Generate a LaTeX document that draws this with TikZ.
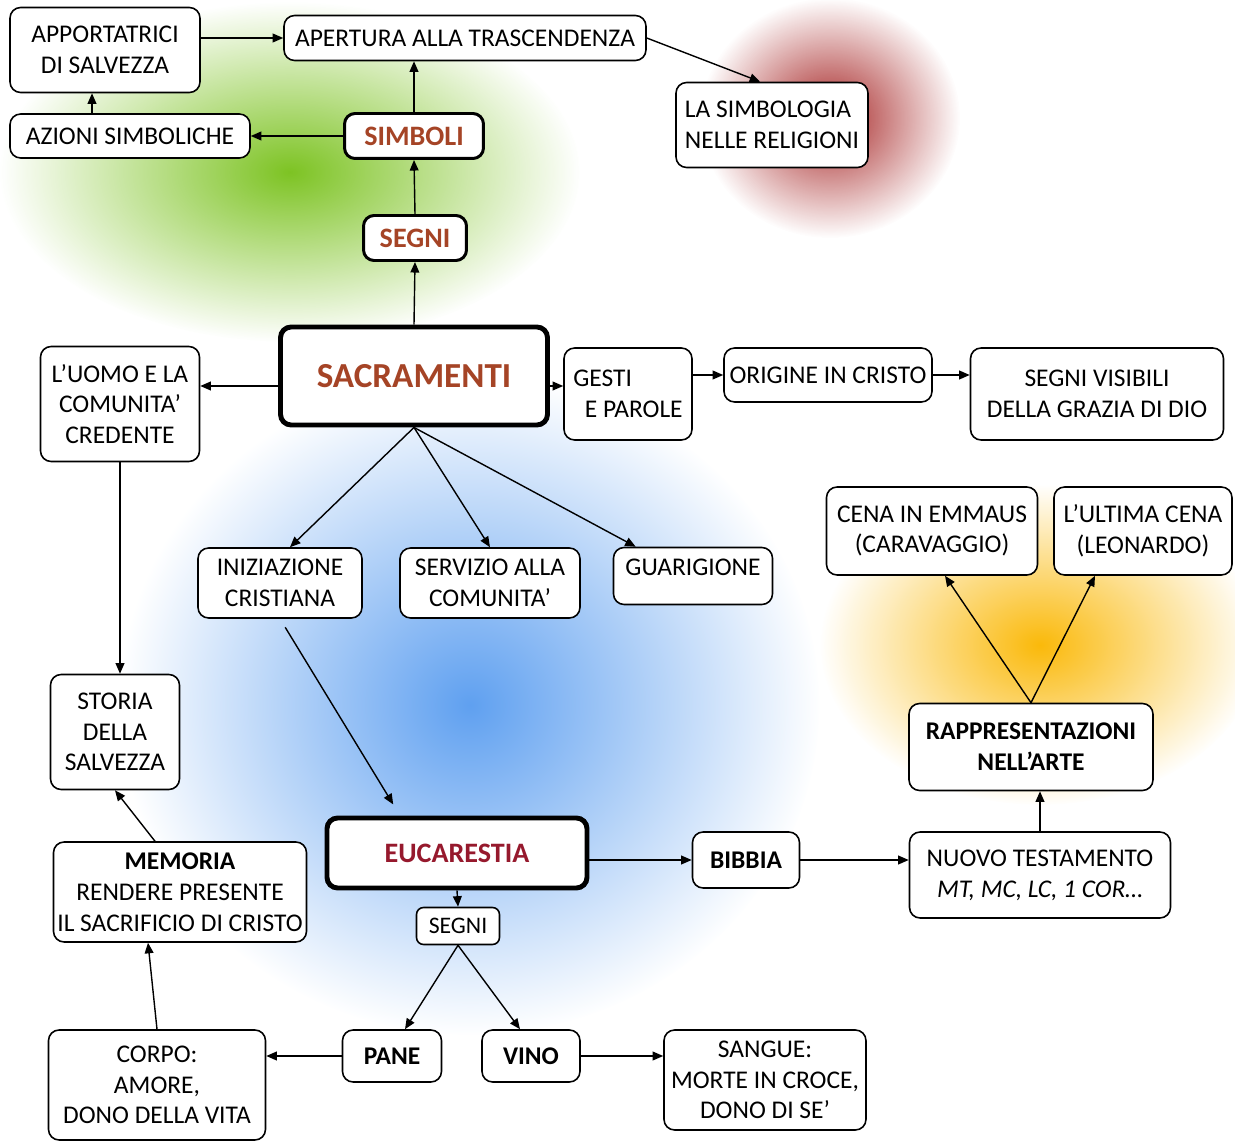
\documentclass[tikz,border=0pt]{standalone}
\usepackage{fontspec}
\setmainfont{Carlito}
\usetikzlibrary{arrows.meta,fadings}
\definecolor{sacrcol}{RGB}{165,68,38}
\definecolor{eucol}{RGB}{150,25,45}
\definecolor{glowgreen}{RGB}{125,195,35}
\definecolor{glowred}{RGB}{165,35,35}
\definecolor{glowblue}{RGB}{95,160,240}
\definecolor{gloworange}{RGB}{250,185,10}
\tikzfading[name=glowfade, inner color=transparent!0, outer color=transparent!100]
\tikzset{
  box/.style={draw, rounded corners=6pt, fill=white, align=center, line width=0.9pt,
    inner sep=2pt, font=\fontsize{14.5}{17.5}\selectfont},
  keybox/.style={box, line width=1.7pt, text=sacrcol, font=\fontsize{16}{19}\selectfont\bfseries},
  arr/.style={-{Triangle[length=6pt,width=5pt]}, line width=0.8pt},
}
\begin{document}
\begin{tikzpicture}[x=0.02cm, y=-0.02cm]
      \useasboundingbox (0,0) rectangle (1235,1142);
      % glows
      \fill[glowgreen, path fading=glowfade] (290,172) ellipse [x radius=5.8cm, y radius=3.4cm];
      \fill[glowred, path fading=glowfade] (830,118) ellipse [x radius=2.6cm, y radius=2.4cm];
      \fill[glowblue, path fading=glowfade] (470,705) ellipse [x radius=7cm, y radius=6.6cm];
      \fill[gloworange, path fading=glowfade] (1040,645) ellipse [x radius=4.4cm, y radius=3.2cm];
      % top: simboli
      \draw (105,50) node[box, minimum width=3.8cm, minimum height=1.7cm](apport){APPORTATRICI\\DI SALVEZZA};
      \draw (465,38) node[box, minimum width=7.24cm, minimum height=0.9cm](apert){APERTURA ALLA TRASCENDENZA};
      \draw (130,136) node[box, minimum width=4.8cm, minimum height=0.88cm](azioni){AZIONI SIMBOLICHE};
      \draw (414,136) node[keybox, minimum width=2.78cm, minimum height=0.9cm](simboli){SIMBOLI};
      \draw (415,238) node[keybox, minimum width=2.06cm, minimum height=0.9cm](segni){SEGNI};
      \draw (772,125) node[box, align=left, minimum width=3.84cm, minimum height=1.7cm](simbol){LA SIMBOLOGIA\\NELLE RELIGIONI};
      % sacramenti
      \draw (414,376) node[keybox, line width=2.8pt, minimum width=5.34cm, minimum height=1.96cm,
        font=\fontsize{20}{24}\selectfont\bfseries](sacr){SACRAMENTI};
      \draw (120,404) node[box, minimum width=3.18cm, minimum height=2.3cm](uomo){L'UOMO E LA\\COMUNITA'\\CREDENTE};
      \draw (628,394) node[box, align=left, minimum width=2.56cm, minimum height=1.84cm](gesti){GESTI\\\ \ E PAROLE};
      \draw (828,375) node[box, minimum width=4.16cm, minimum height=1.08cm](origine){ORIGINE IN CRISTO};
      \draw (1097,394) node[box, minimum width=5.06cm, minimum height=1.84cm](visib){SEGNI VISIBILI\\DELLA GRAZIA DI DIO};
      \draw (280,583) node[box, minimum width=3.28cm, minimum height=1.4cm](iniz){INIZIAZIONE\\CRISTIANA};
      \draw (490,583) node[box, minimum width=3.6cm, minimum height=1.4cm](serv){SERVIZIO ALLA\\COMUNITA'};
      \draw (693,576) node[box, minimum width=3.18cm, minimum height=1.14cm, text depth=0.35cm](guar){GUARIGIONE};
      % arte
      \draw (932,531) node[box, minimum width=4.22cm, minimum height=1.76cm](cena){CENA IN EMMAUS\\(CARAVAGGIO)};
      \draw (1143,531) node[box, minimum width=3.56cm, minimum height=1.76cm](ultima){L'ULTIMA CENA\\(LEONARDO)};
      \draw (1031,747) node[box, minimum width=4.88cm, minimum height=1.74cm,
        font=\fontsize{14.5}{17.5}\selectfont\bfseries](arte){RAPPRESENTAZIONI\\NELL'ARTE};
      % eucarestia
      \draw (115,732) node[box, minimum width=2.58cm, minimum height=2.3cm](storia){STORIA\\DELLA\\SALVEZZA};
      \draw (457,853) node[keybox, line width=2.8pt, text=eucol, minimum width=5.2cm, minimum height=1.4cm](euc){EUCARESTIA};
      \draw (746,860) node[box, minimum width=2.14cm, minimum height=1.12cm,
        font=\fontsize{14.5}{17.5}\selectfont\bfseries](bibbia){BIBBIA};
      \draw (1040,875) node[box, minimum width=5.22cm, minimum height=1.72cm](nuovo){NUOVO TESTAMENTO\\\textit{MT, MC, LC, 1 COR…}};
      \draw (180,892) node[box, minimum width=5.06cm, minimum height=2cm](memoria){\textbf{MEMORIA}\\RENDERE PRESENTE\\IL SACRIFICIO DI CRISTO};
      \draw (458,926) node[box, rounded corners=4pt, minimum width=1.66cm, minimum height=0.74cm,
        font=\fontsize{13.5}{16}\selectfont](segnieu){SEGNI};
      \draw (392,1056) node[box, minimum width=1.98cm, minimum height=1.04cm,
        font=\fontsize{14.5}{17.5}\selectfont\bfseries](pane){PANE};
      \draw (531,1056) node[box, minimum width=1.96cm, minimum height=1.04cm,
        font=\fontsize{14.5}{17.5}\selectfont\bfseries](vino){VINO};
      \draw (157,1085) node[box, minimum width=4.34cm, minimum height=2.2cm](corpo){CORPO:\\AMORE,\\DONO DELLA VITA};
      \draw (765,1080) node[box, minimum width=4.04cm, minimum height=2cm](sangue){SANGUE:\\MORTE IN CROCE,\\DONO DI SE'};
      % arrows
      \draw[arr] (apport.east |- apert.west) -- (apert.west);
      \draw[arr] ([xshift=-0.26cm]apport.south |- azioni.north) -- ([xshift=-0.26cm]apport.south);
      \draw[arr] (simboli.west) -- (azioni.east);
      \draw[arr] (simboli.north) -- (simboli.north |- apert.south);
      \draw[arr] (segni.north) -- (simboli.south);
      \draw[arr] (sacr.north) -- (segni.south);
      \draw[arr] (apert.east) -- ([xshift=1.7cm]simbol.north west);
      \draw[arr] ([yshift=-0.2cm]sacr.west) -- ([yshift=-0.2cm]sacr.west -| uomo.east);
      \draw[arr] ([yshift=-0.2cm]sacr.east) -- ([yshift=-0.2cm]sacr.east -| gesti.west);
      \draw[arr] (gesti.east |- origine.west) -- (origine.west);
      \draw[arr] (origine.east) -- (origine.east -| visib.west);
      \draw[arr] (sacr.south) -- ([xshift=0.2cm]iniz.north);
      \draw[arr] (sacr.south) -- (serv.north);
      \draw[arr] (sacr.south) -- ([xshift=0.46cm]guar.north west);
      \draw[arr, shorten <=0.2cm, shorten >=0.26cm] (iniz.south) -- ([xshift=-1.14cm]euc.north);
      \draw[arr] (uomo.south) -- (uomo.south |- storia.north);
      \draw[arr] ([xshift=-0.5cm]memoria.north) -- (storia.south);
      \draw[arr] (corpo.north) -- ([xshift=-0.64cm]memoria.south);
      \draw[arr] (euc.south) -- (segnieu.north);
      \draw[arr] (segnieu.south) -- ([xshift=0.26cm]pane.north);
      \draw[arr] (segnieu.south) -- ([xshift=-0.22cm]vino.north);
      \draw[arr] (pane.west) -- (pane.west -| corpo.east);
      \draw[arr] (vino.east) -- (vino.east -| sangue.west);
      \draw[arr] (euc.east |- bibbia.west) -- (bibbia.west);
      \draw[arr] (bibbia.east) -- (bibbia.east -| nuovo.west);
      \draw[arr] (nuovo.north) -- (nuovo.north |- arte.south);
      \draw[arr] (arte.north) -- ([xshift=0.26cm]cena.south);
      \draw[arr] (arte.north) -- ([xshift=-0.96cm]ultima.south);
\end{tikzpicture}
\end{document}
